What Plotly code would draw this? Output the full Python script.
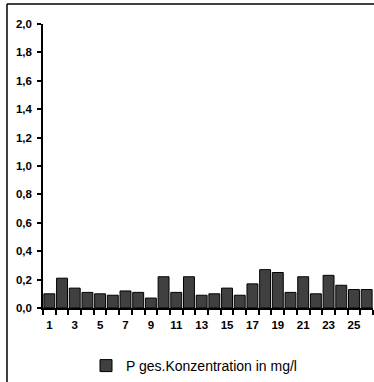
import plotly.graph_objects as go

categories = list(range(1, 27))
values = [0.10, 0.21, 0.14, 0.11, 0.10, 0.09, 0.12, 0.11, 0.07, 0.22,
          0.11, 0.22, 0.09, 0.10, 0.14, 0.09, 0.17, 0.27, 0.25, 0.11,
          0.22, 0.10, 0.23, 0.16, 0.13, 0.13]
tick_labels = [str(c) for c in categories if c % 2 == 1]
series_name = "P ges.Konzentration in mg/l"

W, H = 374, 382
L, R, T, B = 43, 1, 24, 73
pw, ph = W - L - R, H - T - B

fig = go.Figure()
fig.add_trace(go.Bar(
    x=categories, y=values, name=series_name,
    marker=dict(color="#404040", line=dict(color="#000000", width=1)),
    width=0.86,
))

fig.update_layout(
    width=W, height=H,
    margin=dict(l=L, r=R, t=T, b=B, pad=0),
    paper_bgcolor="white", plot_bgcolor="white",
    separators=",.",
    font=dict(family="Liberation Sans, Arial", color="black"),
    showlegend=True,
    legend=dict(orientation="h", x=(86 - L) / pw, xanchor="left",
                y=-(350 - (H - B)) / ph, yanchor="top",
                font=dict(size=14, family="Liberation Sans, Arial"),
                itemwidth=30),
    xaxis=dict(
        range=[0.5, 26.5], showgrid=False, zeroline=False,
        showline=True, linecolor="black", linewidth=1.5,
        tickmode="array", tickvals=[c for c in categories if c % 2 == 1],
        ticktext=tick_labels, ticks="", ticklen=0, ticklabelstandoff=5,
        tickfont=dict(size=11.5, family="Liberation Sans, Arial", weight="bold"),
        minor=dict(tickmode="array", tickvals=[c + 0.5 for c in [0] + categories],
                   ticks="outside", ticklen=5, tickcolor="black", tickwidth=1.5),
    ),
    yaxis=dict(
        range=[0, 2.0], showgrid=False, zeroline=False,
        showline=True, linecolor="black", linewidth=1.5,
        tickvals=[0, 0.2, 0.4, 0.6, 0.8, 1.0, 1.2, 1.4, 1.6, 1.8, 2.0],
        tickformat=".1f", ticks="outside", ticklen=4, tickcolor="black", tickwidth=1.5,
        ticklabelstandoff=3,
        tickfont=dict(size=11.5, family="Liberation Sans, Arial", weight="bold"),
    ),
)

bx0 = (7 - L) / pw
by1 = 1 + (T - 4) / ph
fig.add_shape(type="line", xref="paper", yref="paper",
              x0=bx0, x1=1.2, y0=by1, y1=by1, line=dict(color="black", width=1.5))
fig.add_shape(type="line", xref="paper", yref="paper",
              x0=bx0, x1=bx0, y0=-0.5, y1=by1, line=dict(color="black", width=1.5))

fig.write_html("out.html", config={"displayModeBar": False},
               post_script="document.body.style.margin='0';document.body.style.overflow='hidden';")
